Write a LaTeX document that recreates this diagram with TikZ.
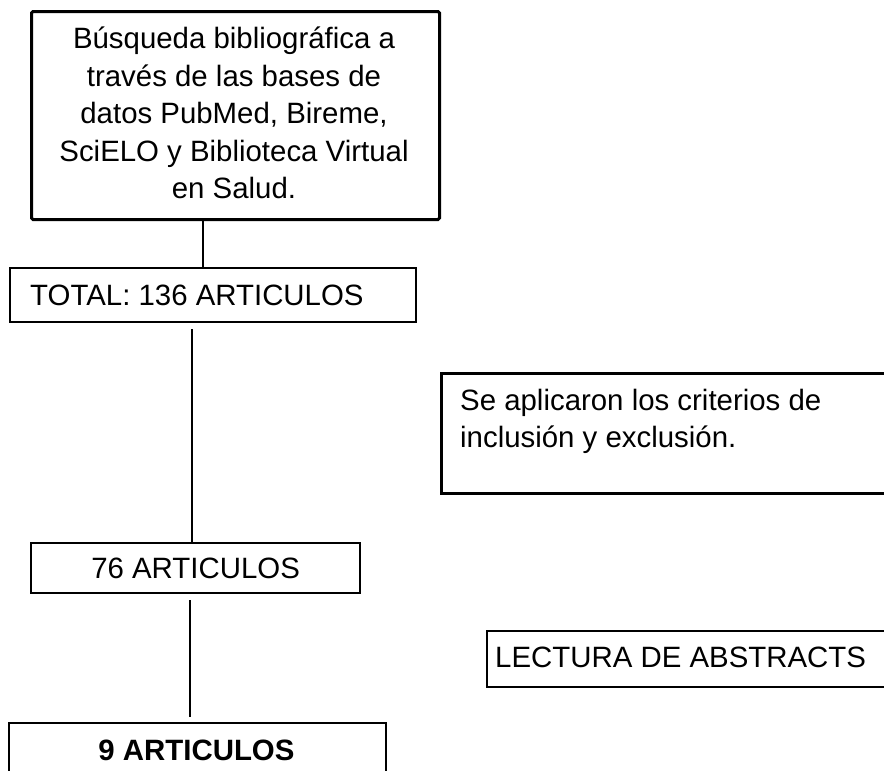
\documentclass[tikz,border=0pt]{standalone}
\usepackage{fontspec}
\setmainfont{Liberation Sans}
\begin{document}
\begin{tikzpicture}[x=1pt,y=-1pt,
  box/.style={draw=black, line width=2.2pt, inner sep=0pt, anchor=north west},
  conn/.style={draw=black, line width=2pt},
  txt/.style={font=\fontsize{29.4}{37.5}\selectfont, inner sep=0pt}]
\useasboundingbox (0,0) rectangle (884,771);
\clip (0,0) rectangle (884,771);
% boxes
\node[box, line width=3pt, rounded corners=1.5pt, minimum width=408, minimum height=208] (search) at (30,10) {};
\node[txt, align=center] (searchtext) at (234,113) {Búsqueda bibliográfica a\\ través de las bases de\\ datos PubMed, Bireme,\\ SciELO y Biblioteca Virtual\\ en Salud.};
\node[box, minimum width=406, minimum height=54] (total) at (9,267) {};
\node[txt, anchor=base west] (totaltext) at (30,305) {TOTAL: 136 ARTICULOS};
\node[box, line width=2.5pt, minimum width=500, minimum height=120] (crit) at (440,372) {};
\node[txt, anchor=base west] (crittext) at (460,410) {\begin{tabular}[t]{@{}l@{}}Se aplicaron los criterios de\\ inclusión y exclusión.\end{tabular}};
\node[box, minimum width=329, minimum height=50, txt] (n76) at (30,542) {76 ARTICULOS};
\node[box, minimum width=450, minimum height=56] (lect) at (486,630) {};
\node[txt, anchor=base west] (lecttext) at (495,667) {LECTURA DE ABSTRACTS};
\node[box, minimum width=377, minimum height=80] (nine) at (8,722) {};
\node[txt, anchor=base, font=\fontsize{29.4}{37.5}\selectfont\bfseries] (ninetext) at (196.5,760) {9 ARTICULOS};
% connectors
\coordinate (c1) at (203,0);
\coordinate (c2) at (192,0);
\coordinate (c3) at (190,0);
\draw[conn] (search.south -| c1) -- (total.north -| c1);
\draw[conn, shorten <=6pt] (total.south -| c2) -- (n76.north -| c2);
\draw[conn, shorten <=6pt, shorten >=5pt] (n76.south -| c3) -- (nine.north -| c3);
\end{tikzpicture}
\end{document}
